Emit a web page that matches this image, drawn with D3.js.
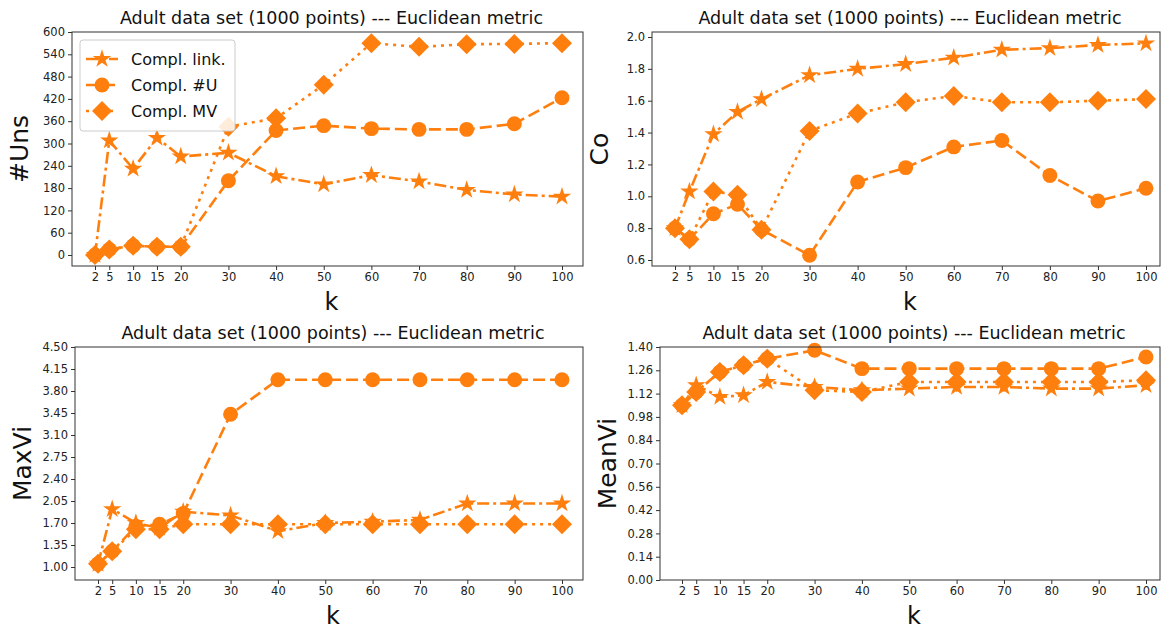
<!DOCTYPE html>
<html><head><meta charset="utf-8">
<script src="https://cdn.jsdelivr.net/npm/d3@7"></script>
<style>body{margin:0;background:#fff;font-family:"DejaVu Sans",sans-serif;}</style>
</head><body><svg id="c" width="1164" height="630"></svg>
<script>
const ks = [2, 5, 10, 15, 20, 30, 40, 50, 60, 70, 80, 90, 100];
const seriesNames = ["Compl. link.", "Compl. #U", "Compl. MV"];

const unsLink = [0, 308, 232, 315, 265, 275, 212, 190, 215, 198, 175, 163, 157];
const unsU    = [0, 15, 25, 22, 22, 200, 335, 348, 340, 338, 338, 353, 423];
const unsMV   = [0, 15, 25, 22, 22, 345, 368, 458, 570, 560, 567, 568, 570];

const coLink = [0.80, 1.03, 1.39, 1.53, 1.61, 1.76, 1.80, 1.83, 1.87, 1.92, 1.93, 1.95, 1.96];
const coU    = [0.80, 0.73, 0.89, 0.95, 0.79, 0.63, 1.09, 1.18, 1.31, 1.35, 1.13, 0.97, 1.05];
const coMV   = [0.80, 0.73, 1.03, 1.01, 0.79, 1.41, 1.52, 1.59, 1.63, 1.59, 1.59, 1.60, 1.61];

const maxLink = [1.05, 1.92, 1.70, 1.62, 1.88, 1.82, 1.57, 1.70, 1.72, 1.75, 2.01, 2.01, 2.01];
const maxU    = [1.05, 1.25, 1.65, 1.68, 1.85, 3.43, 3.98, 3.98, 3.98, 3.98, 3.98, 3.98, 3.98];
const maxMV   = [1.05, 1.25, 1.60, 1.60, 1.68, 1.68, 1.68, 1.68, 1.68, 1.68, 1.68, 1.68, 1.68];

const meanLink = [1.05, 1.17, 1.10, 1.11, 1.19, 1.16, 1.14, 1.15, 1.16, 1.16, 1.15, 1.15, 1.17];
const meanU    = [1.05, 1.13, 1.25, 1.29, 1.33, 1.38, 1.27, 1.27, 1.27, 1.27, 1.27, 1.27, 1.34];
const meanMV   = [1.05, 1.13, 1.25, 1.29, 1.33, 1.14, 1.13, 1.19, 1.19, 1.19, 1.19, 1.19, 1.20];

const unsTicks  = d3.range(0, 601, 60);
const coTicks   = [0.6, 0.8, 1.0, 1.2, 1.4, 1.6, 1.8, 2.0];
const maxTicks  = [1.00, 1.35, 1.70, 2.05, 2.40, 2.75, 3.10, 3.45, 3.80, 4.15, 4.50];
const meanTicks = d3.range(0, 11).map(i => i * 0.14);

const color = "#ff7f0e";
const title = "Adult data set (1000 points) --- Euclidean metric";
const svg = d3.select("#c");

const panels = [
  {x0: 72, x1: 583, y0: 32, y1: 266, xk: [95, 562], yDom: [0, 600], yPx: [255, 32], ticks: unsTicks, fmt: d3.format("d"), label: "#Uns", data: [unsLink, unsU, unsMV], legend: true},
  {x0: 652, x1: 1160, y0: 32, y1: 266, xk: [675, 1146], yDom: [0.6, 2.0], yPx: [260, 37], ticks: coTicks, fmt: d3.format(".1f"), label: "Co", data: [coLink, coU, coMV]},
  {x0: 75, x1: 583, y0: 347, y1: 580, xk: [98, 562], yDom: [1.0, 4.5], yPx: [567, 347], ticks: maxTicks, fmt: d3.format(".2f"), label: "MaxVi", data: [maxLink, maxU, maxMV]},
  {x0: 660, x1: 1160, y0: 347, y1: 580, xk: [682, 1146], yDom: [0, 1.4], yPx: [580, 347], ticks: meanTicks, fmt: d3.format(".2f"), label: "MeanVi", data: [meanLink, meanU, meanMV]}
];

const dashes = ["12,4,3,4", "12,5", "3,5"];
const star = d3.symbol().type(d3.symbolStar).size(105);
const circle = d3.symbol().type(d3.symbolCircle).size(175);
const diamond = d3.symbol().type(d3.symbolSquare).size(200);

function drawMarker(g, i, x, y) {
  if (i === 0) g.append("path").attr("d", star()).attr("transform", `translate(${x},${y})`).attr("fill", color);
  else if (i === 1) g.append("path").attr("d", circle()).attr("transform", `translate(${x},${y})`).attr("fill", color);
  else g.append("path").attr("d", diamond()).attr("transform", `translate(${x},${y}) rotate(45)`).attr("fill", color);
}

panels.forEach(p => {
  const x = d3.scaleLinear().domain([2, 100]).range(p.xk);
  const y = d3.scaleLinear().domain(p.yDom).range(p.yPx);
  const g = svg.append("g");
  const clipId = "clip" + p.label.replace("#", "");
  svg.append("clipPath").attr("id", clipId).append("rect")
    .attr("x", p.x0 - 12).attr("y", p.y0 - 12).attr("width", p.x1 - p.x0 + 24).attr("height", p.y1 - p.y0 + 24);

  const plot = g.append("g").attr("clip-path", `url(#${clipId})`);
  const line = d3.line().x((d, j) => x(ks[j])).y(d => y(d));
  // each series: line then its markers, in series order (matplotlib style)
  p.data.forEach((vals, i) => {
    plot.append("path").datum(vals).attr("d", line).attr("fill", "none")
      .attr("stroke", color).attr("stroke-width", 2.6).attr("stroke-dasharray", dashes[i]);
    vals.forEach((v, j) => drawMarker(plot, i, x(ks[j]), y(v)));
  });

  g.append("rect").attr("x", p.x0).attr("y", p.y0).attr("width", p.x1 - p.x0).attr("height", p.y1 - p.y0)
    .attr("fill", "none").attr("stroke", "#333").attr("stroke-width", 1);

  const yAxis = g.append("g").attr("transform", `translate(${p.x0},0)`)
    .call(d3.axisLeft(y).tickValues(p.ticks).tickFormat(p.fmt).tickSize(4).tickPadding(3));
  const xAxis = g.append("g").attr("transform", `translate(0,${p.y1})`)
    .call(d3.axisBottom(x).tickValues(ks).tickSize(4).tickPadding(3));
  [yAxis, xAxis].forEach(a => {
    a.select(".domain").remove();
    a.selectAll("text").attr("font-size", 11.5).attr("fill", "#222").attr("font-family", "DejaVu Sans");
    a.selectAll("line").attr("stroke", "#333");
  });

  g.append("text").attr("x", (p.x0 + p.x1) / 2 + 4).attr("y", p.y0 - 8).attr("text-anchor", "middle")
    .attr("font-size", 17.5).attr("fill", "#111").text(title);
  g.append("text").attr("x", (p.x0 + p.x1) / 2 + 4).attr("y", p.y1 + 44).attr("text-anchor", "middle")
    .attr("font-size", 24).attr("fill", "#111").text("k");
  g.append("text").attr("transform", `translate(${p.x0 - 44},${(p.y0 + p.y1) / 2}) rotate(-90)`)
    .attr("text-anchor", "middle").attr("font-size", 25).attr("fill", "#111").text(p.label);

  if (p.legend) {
    const lg = g.append("g");
    lg.append("rect").attr("x", 80).attr("y", 40).attr("width", 155).attr("height", 91).attr("rx", 3)
      .attr("fill", "#fff").attr("fill-opacity", 0.85).attr("stroke", "#ccc");
    seriesNames.forEach((n, i) => {
      const yy = 59 + i * 26;
      lg.append("line").attr("x1", 86).attr("x2", 118).attr("y1", yy).attr("y2", yy)
        .attr("stroke", color).attr("stroke-width", 2.6).attr("stroke-dasharray", dashes[i]);
      drawMarker(lg, i, 102, yy);
      lg.append("text").attr("x", 131).attr("y", yy + 6).attr("font-size", 16).attr("fill", "#111").text(n);
    });
  }
});
</script></body></html>
